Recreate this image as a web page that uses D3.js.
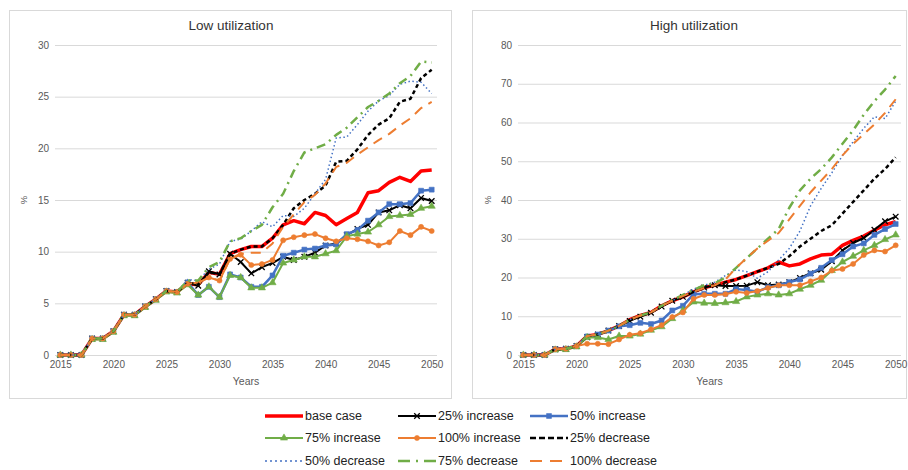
<!DOCTYPE html>
<html><head><meta charset="utf-8">
<script src="https://cdn.jsdelivr.net/npm/d3@7"></script>
<style>
body{margin:0;background:#fff;}
text{font-family:"Liberation Sans",Arial,sans-serif;}
</style>
</head><body>
<svg id="c" width="908" height="470"></svg>
<script>
const years = [2015,2016,2017,2018,2019,2020,2021,2022,2023,2024,2025,2026,2027,2028,2029,2030,2031,2032,2033,2034,2035,2036,2037,2038,2039,2040,2041,2042,2043,2044,2045,2046,2047,2048,2049,2050];
const xTickYears = [2015,2020,2025,2030,2035,2040,2045,2050];
const lowTicks = [0,5,10,15,20,25,30];
const highTicks = [0,10,20,30,40,50,60,70,80];
const seriesNames = ["base case","25% increase","50% increase","75% increase","100% increase","25% decrease","50% decrease","75% decrease","100% decrease"];

// Low utilization
const lowBase   = [0,0,0,1.6,1.6,2.3,3.9,3.9,4.7,5.4,6.2,6.1,6.9,6.8,8.0,7.8,9.8,10.2,10.5,10.5,11.3,12.6,13.0,12.7,13.8,13.5,12.6,13.2,13.8,15.7,15.9,16.7,17.2,16.8,17.8,17.9];
const lowInc25  = [0,0,0,1.6,1.6,2.3,3.9,3.9,4.7,5.4,6.2,6.1,7.0,6.7,8.1,7.8,9.8,9.0,7.9,8.5,8.9,9.5,9.2,9.5,9.9,10.6,10.8,11.6,12.2,12.6,13.8,14.0,14.5,14.2,15.2,14.9];
const lowInc50  = [0,0,0,1.6,1.6,2.3,3.9,3.9,4.7,5.4,6.2,6.1,7.0,5.8,6.6,5.6,7.8,7.5,6.6,6.6,7.7,9.6,9.9,10.2,10.3,10.6,10.7,11.7,12.1,13.0,13.8,14.6,14.6,14.7,15.9,16.0];
const lowInc75  = [0,0,0,1.5,1.5,2.2,3.8,3.8,4.6,5.3,6.1,6.0,6.8,5.8,6.6,5.6,7.7,7.5,6.5,6.5,7.0,8.9,9.2,9.5,9.5,9.8,10.1,11.5,11.7,11.9,12.6,13.4,13.5,13.6,14.2,14.4];
const lowInc100 = [0,0,0,1.6,1.6,2.3,3.9,3.9,4.7,5.4,6.2,6.1,6.9,7.0,7.5,7.2,9.3,9.7,8.7,8.8,9.2,11.1,11.4,11.6,11.7,11.3,11.0,11.3,11.2,11.0,10.6,10.9,12.0,11.6,12.4,12.0];
const lowDec25  = [0,0,0,1.6,1.6,2.3,3.9,3.9,4.7,5.4,6.2,6.1,7.0,6.8,8.0,7.8,9.8,10.2,10.5,10.5,11.3,12.6,14.2,15.0,15.6,16.4,18.7,18.8,19.9,21.3,22.3,22.9,24.5,24.8,26.8,27.6];
const lowDec50  = [0,0,0,1.6,1.6,2.3,3.9,3.9,4.7,5.4,6.2,6.1,7.3,7.2,8.3,8.8,11.0,11.2,12.0,12.9,12.4,13.5,13.4,14.2,15.6,17.0,21.0,21.1,22.3,23.6,24.6,25.1,26.2,26.5,26.4,25.3];
const lowDec75  = [0,0,0,1.6,1.6,2.3,3.9,3.9,4.7,5.4,6.2,6.1,7.2,7.2,8.5,9.0,11.0,11.3,12.0,12.6,14.3,15.6,17.8,19.6,20.0,20.4,21.3,22.0,23.0,24.0,24.6,25.3,26.3,27.0,28.4,28.3];
const lowDec100 = [0,0,0,1.6,1.6,2.3,3.9,3.9,4.7,5.4,6.2,6.1,6.9,7.0,7.5,7.2,9.3,9.8,9.9,9.9,10.8,12.4,13.6,14.8,15.5,16.6,18.2,18.6,19.4,20.1,20.8,21.4,22.2,22.9,23.9,24.5];

// High utilization
const highBase   = [0,0,0,1.5,1.6,2.3,4.9,5.3,6.3,7.5,9.1,10.2,11.0,12.7,14.0,15.0,16.3,17.4,18.0,18.8,19.5,20.5,21.5,22.5,24.0,23.0,23.5,24.8,25.8,26.0,28.3,29.6,30.7,32.2,33.6,34.4];
const highInc25  = [0,0,0,1.5,1.6,2.3,4.6,5.3,6.3,7.5,8.8,9.9,10.9,12.5,14.0,15.0,16.2,17.4,18.0,17.8,17.8,17.9,18.8,18.0,18.2,18.8,19.9,21.1,22.0,24.2,27.0,28.9,30.2,32.3,34.5,35.7];
const highInc50  = [0,0,0,1.5,1.6,2.3,4.8,5.3,6.3,7.4,7.7,8.3,8.0,8.9,11.5,12.7,15.7,15.8,15.8,15.8,17.0,16.8,16.3,17.5,18.0,18.8,19.5,21.0,22.5,24.5,26.0,28.0,28.8,31.0,32.5,33.8];
const highInc75  = [0,0,0,1.3,1.4,2.1,4.5,4.5,4.0,4.9,4.9,5.4,6.4,7.3,9.4,11.5,13.7,13.4,13.3,13.5,13.8,15.0,15.5,15.8,15.5,15.8,17.0,18.0,19.3,21.8,24.0,25.5,27.0,28.3,29.8,31.0];
const highInc100 = [0,0,0,1.5,1.6,2.3,2.9,2.9,2.8,4.0,5.2,5.6,6.6,7.7,9.8,11.0,14.5,15.5,15.5,15.7,16.3,16.0,16.5,17.3,18.0,18.0,18.0,19.0,20.0,21.8,22.2,23.5,25.8,27.0,26.7,28.3];
const highDec25  = [0,0,0,1.5,1.6,2.3,4.9,5.3,6.3,7.5,9.1,10.2,11.0,12.7,14.0,15.0,16.3,17.4,18.0,18.8,19.5,20.5,21.5,22.5,23.5,25.5,28.0,30.0,32.0,33.5,36.5,39.5,42.5,45.5,48.0,51.0];
const highDec50  = [0,0,0,1.5,1.6,2.3,4.9,5.3,6.3,7.5,9.1,10.2,11.0,12.7,14.0,15.5,17.0,18.0,18.8,20.5,22.0,21.5,19.8,21.5,24.5,27.5,32.0,38.5,43.0,47.0,51.5,55.0,58.5,61.5,61.0,65.5];
const highDec75  = [0,0,0,1.5,1.6,2.3,4.9,5.3,6.3,7.5,9.1,10.2,11.0,12.7,14.2,15.5,16.8,18.0,18.5,20.0,22.5,25.0,27.5,30.0,32.5,38.0,42.5,45.5,48.0,51.0,54.5,58.0,62.0,65.5,68.5,72.0];
const highDec100 = [0,0,0,1.5,1.6,2.3,4.9,5.3,6.3,7.5,9.1,10.2,11.0,12.7,14.0,15.2,16.3,17.3,18.0,19.5,22.5,25.0,27.5,29.5,31.5,35.0,38.5,42.0,45.0,48.0,51.5,54.5,57.0,59.5,62.5,66.0];

const lowSeries  = [lowBase,lowInc25,lowInc50,lowInc75,lowInc100,lowDec25,lowDec50,lowDec75,lowDec100];
const highSeries = [highBase,highInc25,highInc50,highInc75,highInc100,highDec25,highDec50,highDec75,highDec100];

const styles = [
  {color:"#ff0000", width:3.5, dash:null, marker:null},
  {color:"#000000", width:2, dash:null, marker:"x"},
  {color:"#4472c4", width:2.5, dash:null, marker:"square"},
  {color:"#70ad47", width:2, dash:null, marker:"triangle"},
  {color:"#ed7d31", width:2, dash:null, marker:"circle"},
  {color:"#000000", width:2.5, dash:"4,3", marker:null},
  {color:"#4472c4", width:1.5, dash:"1.5,2.5", marker:null},
  {color:"#70ad47", width:2.5, dash:"9,5,2,5", marker:null},
  {color:"#ed7d31", width:2, dash:"10,7", marker:null}
];

const svg = d3.select("#c");

function marker(g, type, x, y, color){
  if(!type) return;
  if(type === "x"){
    g.append("path").attr("d", d3.symbol().type(d3.symbolX).size(22)())
      .attr("transform",`translate(${x},${y})`).attr("fill","none").attr("stroke",color).attr("stroke-width",1.3);
  } else {
    const t = type==="square"?d3.symbolSquare:type==="triangle"?d3.symbolTriangle:d3.symbolCircle;
    const s = type==="square"?24:type==="triangle"?22:20;
    g.append("path").attr("d", d3.symbol().type(t).size(s)())
      .attr("transform",`translate(${x},${y})`).attr("fill",color).attr("stroke",color).attr("stroke-width",0.6);
  }
}

function panel(cfg){
  svg.append("rect").attr("x",cfg.bx).attr("y",10.5).attr("width",cfg.bw).attr("height",388)
    .attr("fill","#fff").attr("stroke","#d9d9d9").attr("stroke-width",1);
  const x = d3.scalePoint().domain(years).range([cfg.x0, cfg.x1]).padding(0.5);
  const y = d3.scaleLinear().domain([0, cfg.ymax]).range([355, 45]);
  const g = svg.append("g");
  // gridlines
  const grid = g.append("g").attr("transform",`translate(${cfg.x0},0)`)
    .call(d3.axisLeft(y).tickValues(cfg.ticks).tickSize(-(cfg.x1-cfg.x0)).tickFormat(""));
  grid.select(".domain").remove();
  grid.selectAll("line").attr("stroke","#d9d9d9").attr("stroke-width",1);
  // y labels
  const ya = g.append("g").attr("transform",`translate(${cfg.x0-6},0)`)
    .call(d3.axisLeft(y).tickValues(cfg.ticks).tickSize(0).tickPadding(0));
  ya.select(".domain").remove();
  ya.selectAll("text").attr("fill","#595959").style("font-size","10px").style("font-family","Liberation Sans, Arial, sans-serif");
  // x labels
  const xa = g.append("g").attr("transform",`translate(0,361)`)
    .call(d3.axisBottom(x).tickValues(xTickYears).tickSize(0).tickPadding(0));
  xa.select(".domain").remove();
  xa.selectAll("text").attr("fill","#595959").attr("dy","0.71em").style("font-size","10px").style("font-family","Liberation Sans, Arial, sans-serif");
  // title
  g.append("text").attr("x",cfg.tx).attr("y",30).attr("text-anchor","middle")
    .attr("fill","#333").style("font-size","13.5px").text(cfg.title);
  g.append("text").attr("x",(cfg.x0+cfg.x1)/2+ (cfg.xlabOff||0)).attr("y",385).attr("text-anchor","middle")
    .attr("fill","#595959").style("font-size","10.5px").text("Years");
  g.append("text").attr("transform",`translate(${cfg.px},200) rotate(-90)`).attr("text-anchor","middle")
    .attr("fill","#595959").style("font-size","9.5px").text("%");
  // lines
  const line = d3.line().x((d,i)=>x(years[i])).y(d=>y(d));
  cfg.series.forEach((s,k)=>{
    const st = styles[k];
    const sg = g.append("g");
    sg.append("path").datum(s).attr("d",line).attr("fill","none")
      .attr("stroke",st.color).attr("stroke-width",st.width)
      .attr("stroke-dasharray",st.dash).attr("stroke-linejoin","round");
    if(st.marker){ s.forEach((v,i)=>marker(sg, st.marker, x(years[i]), y(v), st.color)); }
  });
}

panel({bx:9.5, bw:442, x0:55, x1:437, ymax:30, ticks:lowTicks, series:lowSeries, title:"Low utilization", tx:231, px:27, xlabOff:0});
panel({bx:472.5, bw:434, x0:518, x1:901, ymax:80, ticks:highTicks, series:highSeries, title:"High utilization", tx:694, px:491, xlabOff:0});

// legend
const legendPos = [[265,416],[398,416],[530,416],[265,438],[398,438],[530,438],[265,461],[398,461],[530,461]];
const lg = svg.append("g");
seriesNames.forEach((n,k)=>{
  const [lx,ly] = legendPos[k];
  const st = styles[k];
  const ld = k===5?"6,3":k===6?"2,3":k===7?"12,6,2,6":k===8?"12,8":null;
  lg.append("line").attr("x1",lx).attr("x2",lx+38).attr("y1",ly).attr("y2",ly)
    .attr("stroke",st.color).attr("stroke-width",st.width).attr("stroke-dasharray",ld);
  marker(lg, st.marker, lx+19, ly, st.color);
  lg.append("text").attr("x",lx+40).attr("y",ly).attr("dy","0.35em").attr("fill","#222")
    .style("font-size","12.5px").text(n);
});
</script>
</body></html>
